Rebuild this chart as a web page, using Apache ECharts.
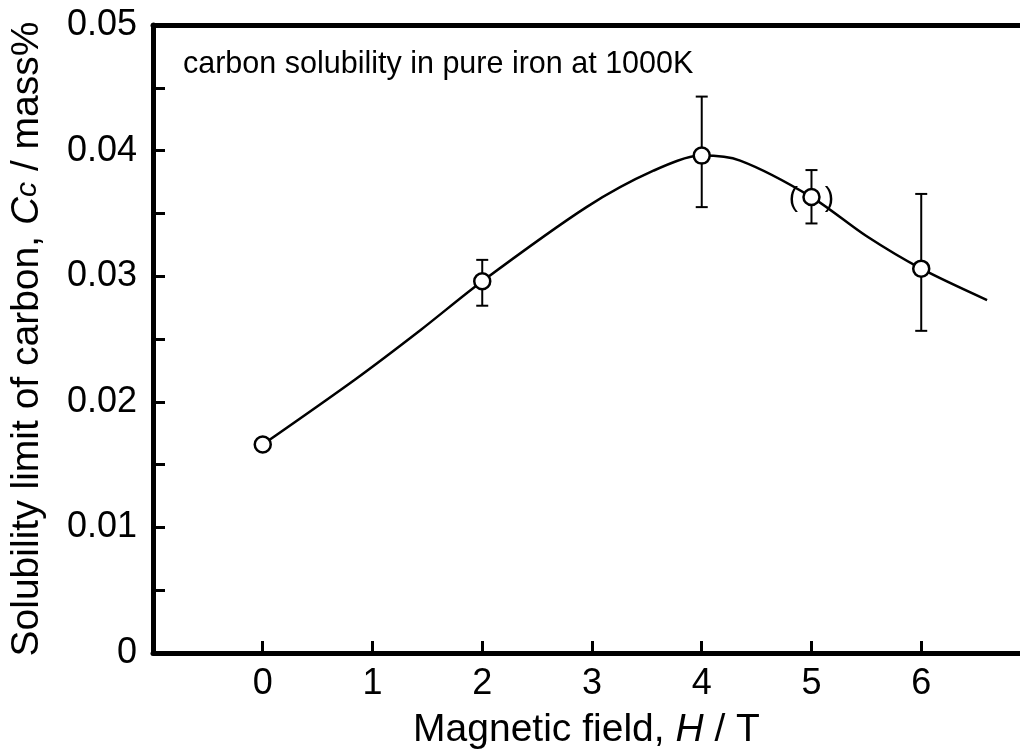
<!DOCTYPE html>
<html>
<head>
<meta charset="utf-8">
<script src="https://cdn.jsdelivr.net/npm/echarts@6/dist/echarts.min.js"></script>
<style>
  html, body { margin: 0; padding: 0; background: #fff; }
  #chart { width: 1020px; height: 756px; }
</style>
</head>
<body>
<div id="chart"></div>
<script>
// Measured carbon solubility (mass%) vs magnetic field (T)
const fieldT = [0, 2, 4, 5, 6];
const solubility = [0.0166, 0.0296, 0.0396, 0.0363, 0.0306];
const errLow = [null, 0.02765, 0.0355, 0.0342, 0.02565];
const errHigh = [null, 0.0313, 0.0443, 0.03845, 0.03655];
// Point shown in parentheses (questionable measurement)
const bracketed = [5];

// Guide curve drawn through the data
const curveH = [0, 0.845, 1.436, 2, 2.95, 3.56, 4, 4.35, 5, 5.5, 6, 6.6];
const curveC = [0.0166, 0.0218, 0.0257, 0.0296, 0.0355, 0.0384, 0.0396, 0.0392, 0.0363, 0.0332, 0.0306, 0.0281];

const xTicks = [0, 1, 2, 3, 4, 5, 6];
const yLabelled = [0, 0.01, 0.02, 0.03, 0.04, 0.05];

const FONT = 'Liberation Sans, Arial, Helvetica, sans-serif';

const points = fieldT.map((h, i) => [h, solubility[i]]);
const bars = fieldT.map((h, i) => [h, errLow[i], errHigh[i]]).filter(d => d[1] != null);
const curve = curveH.map((h, i) => [h, curveC[i]]);
const brackets = points.filter(p => bracketed.includes(p[0]));

const chart = echarts.init(document.getElementById('chart'), null, { renderer: 'canvas' });

chart.setOption({
  backgroundColor: '#ffffff',
  animation: false,
  textStyle: { fontFamily: FONT, color: '#000' },
  grid: { left: 152, right: 0, top: 25, bottom: 103, containLabel: false },
  xAxis: [{
    type: 'value',
    position: 'bottom',
    min: -1,
    max: 6.9,
    interval: 1,
    splitLine: { show: false },
    axisLine: { show: true, onZero: false, lineStyle: { color: '#000', width: 5 } },
    axisTick: { show: true, inside: true, length: 12, customValues: xTicks,
      lineStyle: { color: '#000', width: 3 } },
    axisLabel: { customValues: xTicks, margin: 13, fontSize: 36, color: '#000', fontFamily: FONT,
      formatter: v => (v < 0 || v > 6 ? '' : String(v)) },
    name: 'Magnetic field, {i|H} / T',
    nameLocation: 'middle',
    nameGap: 58,
    nameTextStyle: {
      fontSize: 39, color: '#000', fontFamily: FONT,
      rich: { i: { fontSize: 39, fontStyle: 'italic', color: '#000', fontFamily: FONT } }
    }
  }, {
    type: 'value',
    position: 'top',
    min: -1,
    max: 6.9,
    splitLine: { show: false },
    axisLine: { show: true, onZero: false, lineStyle: { color: '#000', width: 5 } },
    axisTick: { show: false },
    axisLabel: { show: false }
  }],
  yAxis: {
    type: 'value',
    min: 0,
    max: 0.05,
    interval: 0.005,
    splitLine: { show: false },
    axisLine: { show: true, onZero: false, lineStyle: { color: '#000', width: 5 } },
    axisTick: { show: true, inside: true, length: 12, lineStyle: { color: '#000', width: 3 } },
    axisLabel: {
      margin: 16, fontSize: 36, color: '#000', fontFamily: FONT,
      formatter: v => {
        const hit = yLabelled.find(t => Math.abs(t - v) < 1e-9);
        if (hit === undefined) return '';
        return hit === 0 ? '0' : hit.toFixed(2);
      }
    },
    name: 'Solubility limit of carbon, {i|C}{s|c} / mass%',
    nameLocation: 'middle',
    nameGap: 106,
    nameRotate: 90,
    nameTextStyle: {
      fontSize: 39, color: '#000', fontFamily: FONT,
      rich: {
        i: { fontSize: 39, fontStyle: 'italic', color: '#000', fontFamily: FONT },
        s: { fontSize: 30, fontStyle: 'italic', color: '#000', fontFamily: FONT }
      }
    }
  },
  graphic: [{
    type: 'text',
    left: 183,
    top: 49,
    style: { text: 'carbon solubility in pure iron at 1000K', font: '30.5px ' + FONT, fill: '#000' }
  }],
  series: [
    {
      name: 'curve',
      type: 'line',
      data: curve,
      smooth: 0.3,
      showSymbol: false,
      symbol: 'none',
      lineStyle: { color: '#000', width: 2.5 },
      z: 2
    },
    {
      name: 'error',
      type: 'custom',
      data: bars,
      renderItem: (params, api) => {
        const x = api.value(0);
        const lo = api.coord([x, api.value(1)]);
        const hi = api.coord([x, api.value(2)]);
        const cap = 6;
        const style = { stroke: '#000', lineWidth: 2 };
        return {
          type: 'group',
          children: [
            { type: 'line', shape: { x1: lo[0], y1: lo[1], x2: hi[0], y2: hi[1] }, style },
            { type: 'line', shape: { x1: lo[0] - cap, y1: lo[1], x2: lo[0] + cap, y2: lo[1] }, style },
            { type: 'line', shape: { x1: hi[0] - cap, y1: hi[1], x2: hi[0] + cap, y2: hi[1] }, style }
          ]
        };
      },
      z: 3
    },
    {
      name: 'brackets',
      type: 'custom',
      data: brackets,
      renderItem: (params, api) => {
        const p = api.coord([api.value(0), api.value(1)]);
        const font = '28px ' + FONT;
        return {
          type: 'group',
          children: [
            { type: 'text', x: p[0] - 18, y: p[1] + 1, style: { text: '(', font, fill: '#000', align: 'center', verticalAlign: 'middle' } },
            { type: 'text', x: p[0] + 18, y: p[1] + 1, style: { text: ')', font, fill: '#000', align: 'center', verticalAlign: 'middle' } }
          ]
        };
      },
      z: 4
    },
    {
      name: 'measured',
      type: 'scatter',
      data: points,
      symbol: 'circle',
      symbolSize: 16,
      itemStyle: { color: '#fff', borderColor: '#000', borderWidth: 2.5, opacity: 1 },
      z: 5
    }
  ]
});
</script>
</body>
</html>
